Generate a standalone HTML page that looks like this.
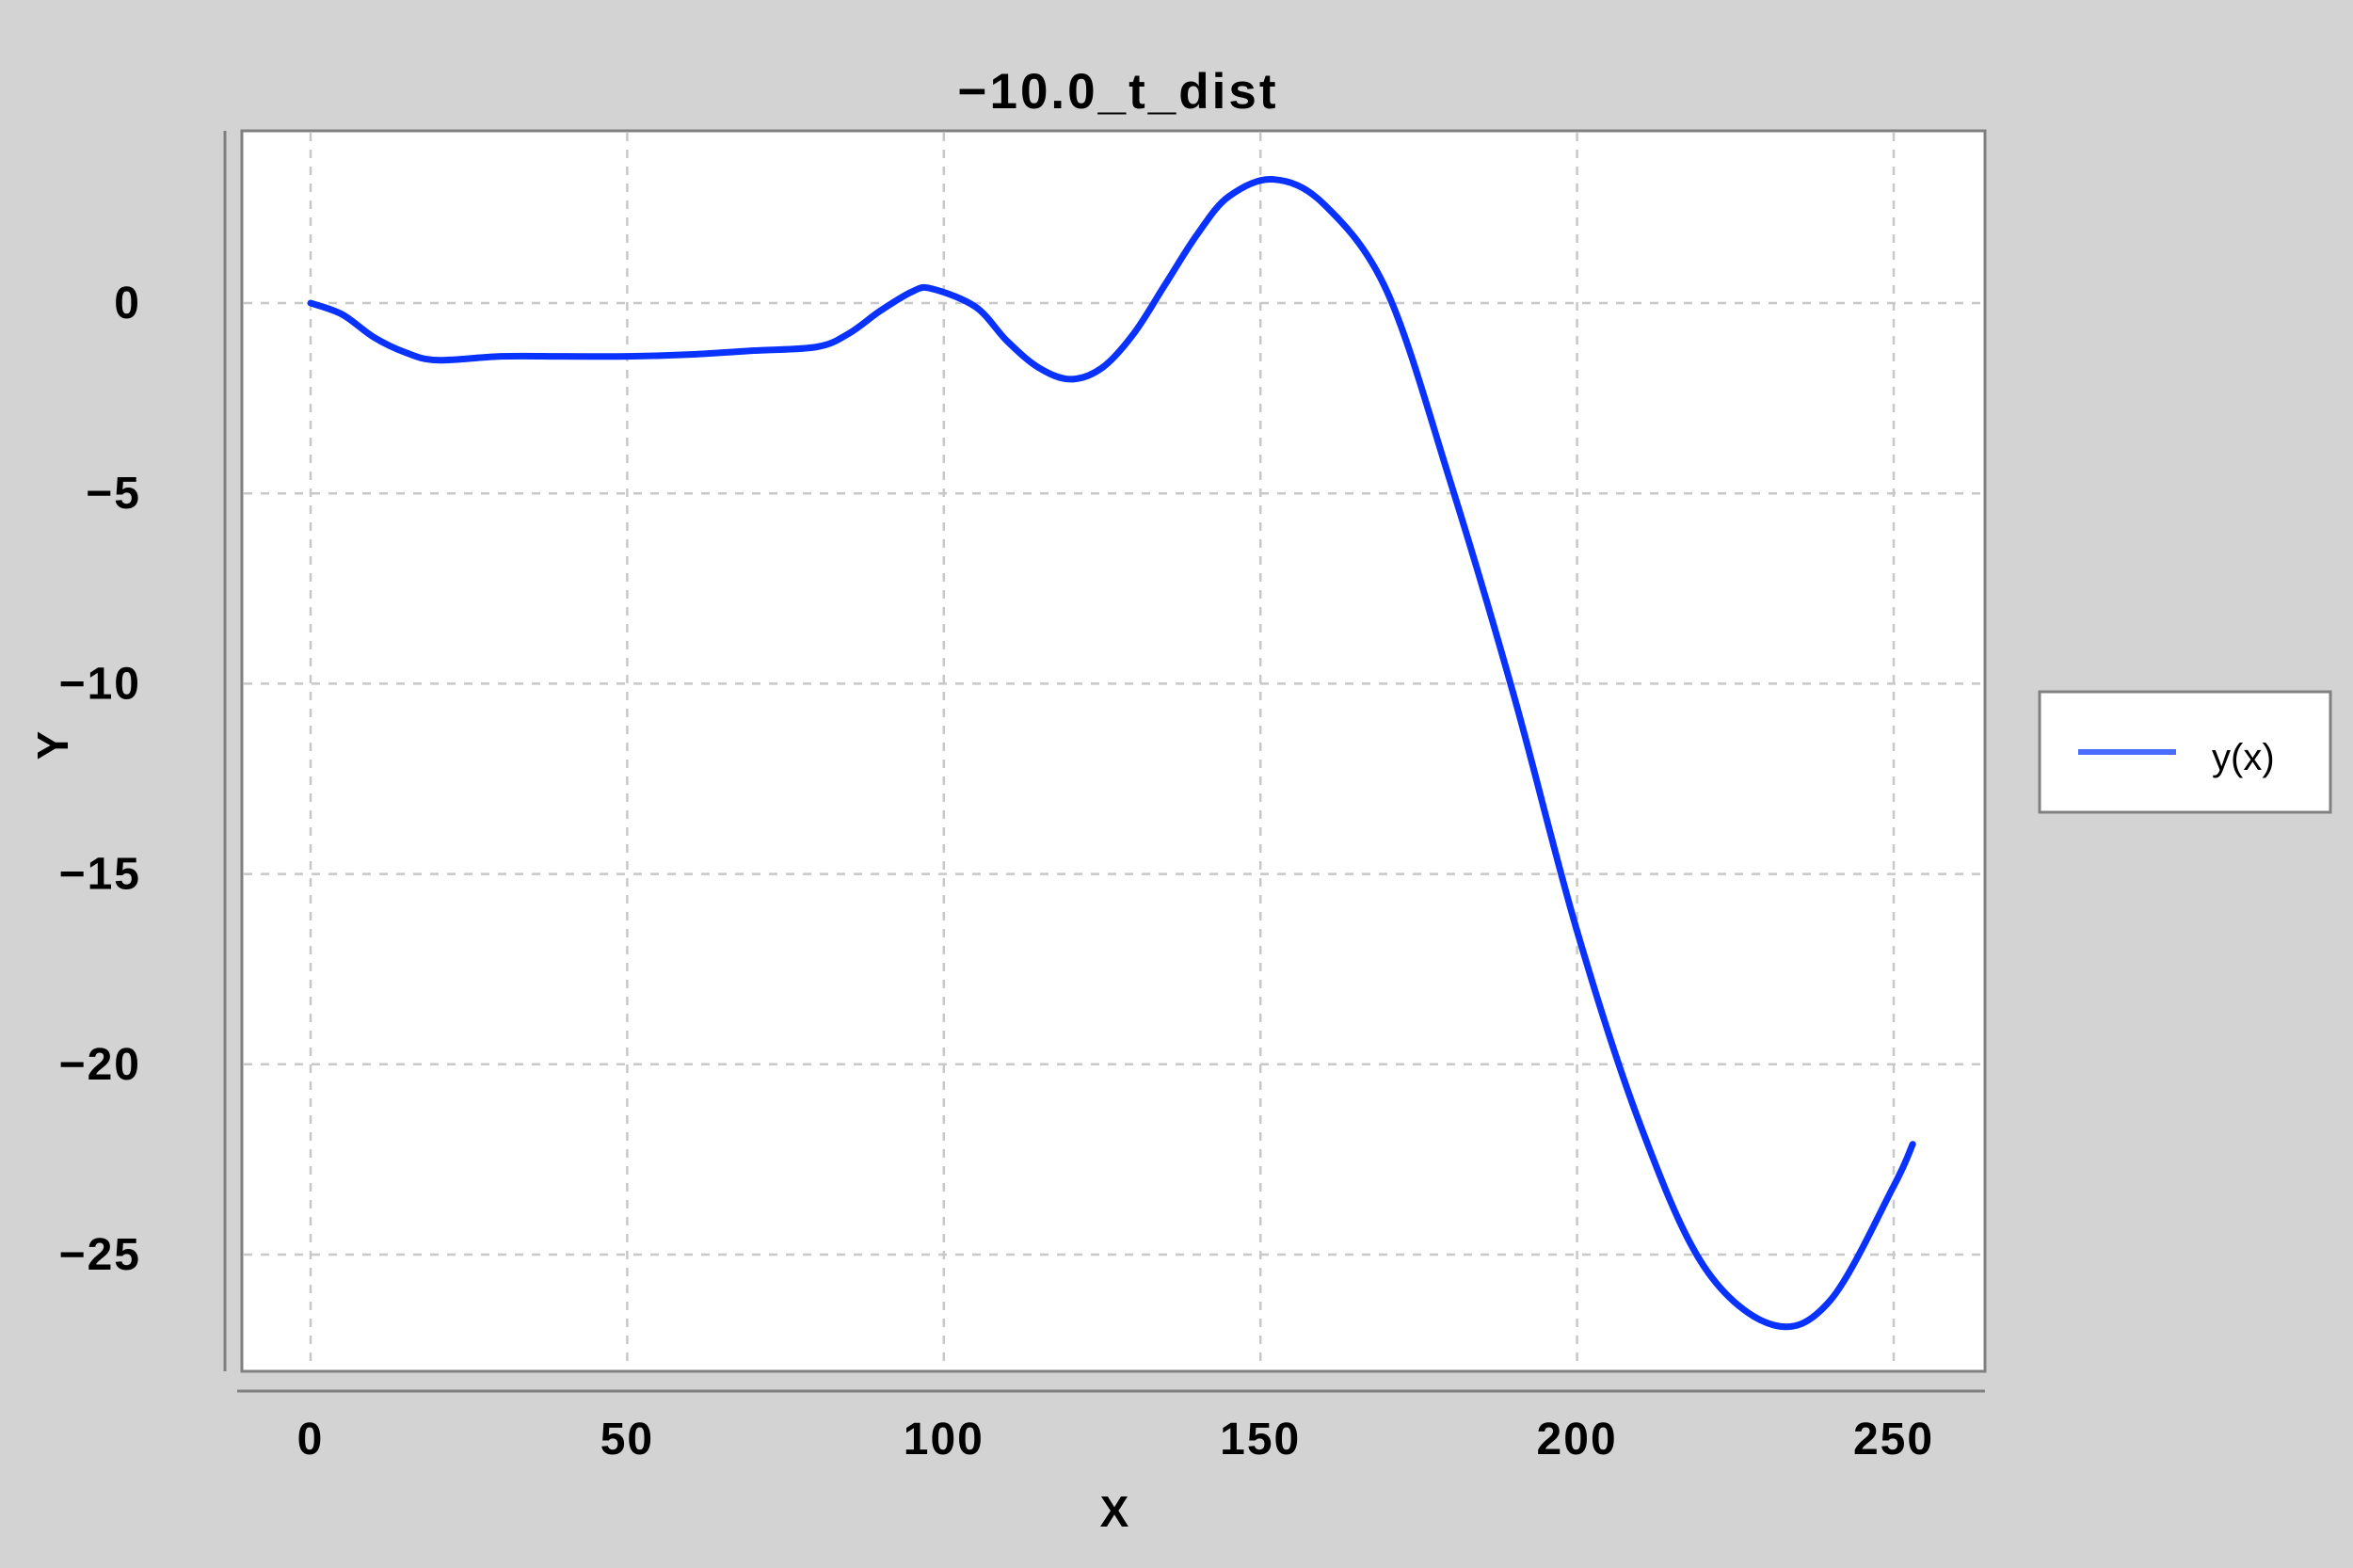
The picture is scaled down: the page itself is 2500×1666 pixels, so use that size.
<!DOCTYPE html>
<html><head><meta charset="utf-8"><style>
body{margin:0;background:#d3d3d3;}
svg{display:block;font-family:"Liberation Sans","DejaVu Sans",sans-serif;}
</style></head><body>
<svg id="c" width="2500" height="1666">
<rect x="0" y="0" width="2500" height="1666" fill="#d3d3d3"/>
<rect x="257" y="139" width="1852" height="1318" fill="#fff" stroke="#808080" stroke-width="3"/>
<g id="grid"></g>
<line x1="239" y1="139" x2="239" y2="1457" stroke="#808080" stroke-width="3"/>
<line x1="252" y1="1478" x2="2109" y2="1478" stroke="#808080" stroke-width="3"/>
<g id="ticks"></g>
<path id="line" fill="none" stroke="#0a32ff" stroke-width="7" stroke-linejoin="round" stroke-linecap="round"/>
<text x="1188" y="115" text-anchor="middle" font-size="53" font-weight="bold" letter-spacing="3">−10.0_t_dist</text>
<text x="1184" y="1622" text-anchor="middle" font-size="46" font-weight="bold">X</text>
<text transform="translate(72,792) rotate(-90)" text-anchor="middle" font-size="46" font-weight="bold">Y</text>
<g>
<rect x="2167" y="735" width="309" height="128" fill="#fff" stroke="#808080" stroke-width="3"/>
<line x1="2208" y1="799" x2="2312" y2="799" stroke="#4a6cff" stroke-width="6"/>
<text x="2350" y="818" font-size="40">y(x)</text>
</g>
</svg>
<script>
const xs=[0,5,10,15,20,30,40,50,60,70,80,85,90,95,98,105,110,115,120,125,130,135,140,145,152,160,170,180,190,200,210,220,231,240,250,253];
const ys=[0,-0.3,-0.9,-1.3,-1.5,-1.4,-1.4,-1.4,-1.35,-1.25,-1.15,-0.8,-0.2,0.3,0.38,-0.1,-1.0,-1.7,-2.0,-1.7,-0.8,0.5,1.8,2.8,3.25,2.6,0.3,-4.7,-10.3,-16.5,-21.6,-25.3,-26.85,-26.2,-23.2,-22.1];
const xTicks=[0,50,100,150,200,250];
const yTicks=[0,-5,-10,-15,-20,-25];
const X=v=>330+v*6.728, Y=v=>322-v*40.44;
const NS="http://www.w3.org/2000/svg";
const grid=document.getElementById('grid'),ticks=document.getElementById('ticks');
function mk(t,a,p){const e=document.createElementNS(NS,t);for(const k in a)e.setAttribute(k,a[k]);p.appendChild(e);return e;}
xTicks.forEach(v=>{
 const g=mk('line',{x1:X(v),x2:X(v),y1:141,y2:1455,stroke:'#c8c8c8','stroke-width':2.5,'stroke-dasharray':'9 9'},grid);
 
 
 const t=mk('text',{x:X(v),y:1545,'text-anchor':'middle','font-size':48,'font-weight':'bold','letter-spacing':2},ticks);t.textContent=v;
 
 
});
yTicks.forEach(v=>{
 const g=mk('line',{x1:259,x2:2107,y1:Y(v),y2:Y(v),stroke:'#c8c8c8','stroke-width':2.5,'stroke-dasharray':'9 9'},grid);
 
 
 const t=mk('text',{x:150,y:Y(v)+16,'text-anchor':'end','font-size':48,'font-weight':'bold','letter-spacing':2},ticks);t.textContent=v<0?'−'+(-v):v;
 
 
});
const P=xs.map((x,i)=>[X(x),Y(ys[i])]);
let d='M'+P[0][0]+','+P[0][1];
for(let i=0;i<P.length-1;i++){
 const p0=P[Math.max(0,i-1)],p1=P[i],p2=P[i+1],p3=P[Math.min(P.length-1,i+2)];
 const c1=[p1[0]+(p2[0]-p0[0])/6,p1[1]+(p2[1]-p0[1])/6],c2=[p2[0]-(p3[0]-p1[0])/6,p2[1]-(p3[1]-p1[1])/6];
 d+=` C${c1[0]},${c1[1]} ${c2[0]},${c2[1]} ${p2[0]},${p2[1]}`;
}
document.getElementById('line').setAttribute('d',d);
</script>
</body></html>
